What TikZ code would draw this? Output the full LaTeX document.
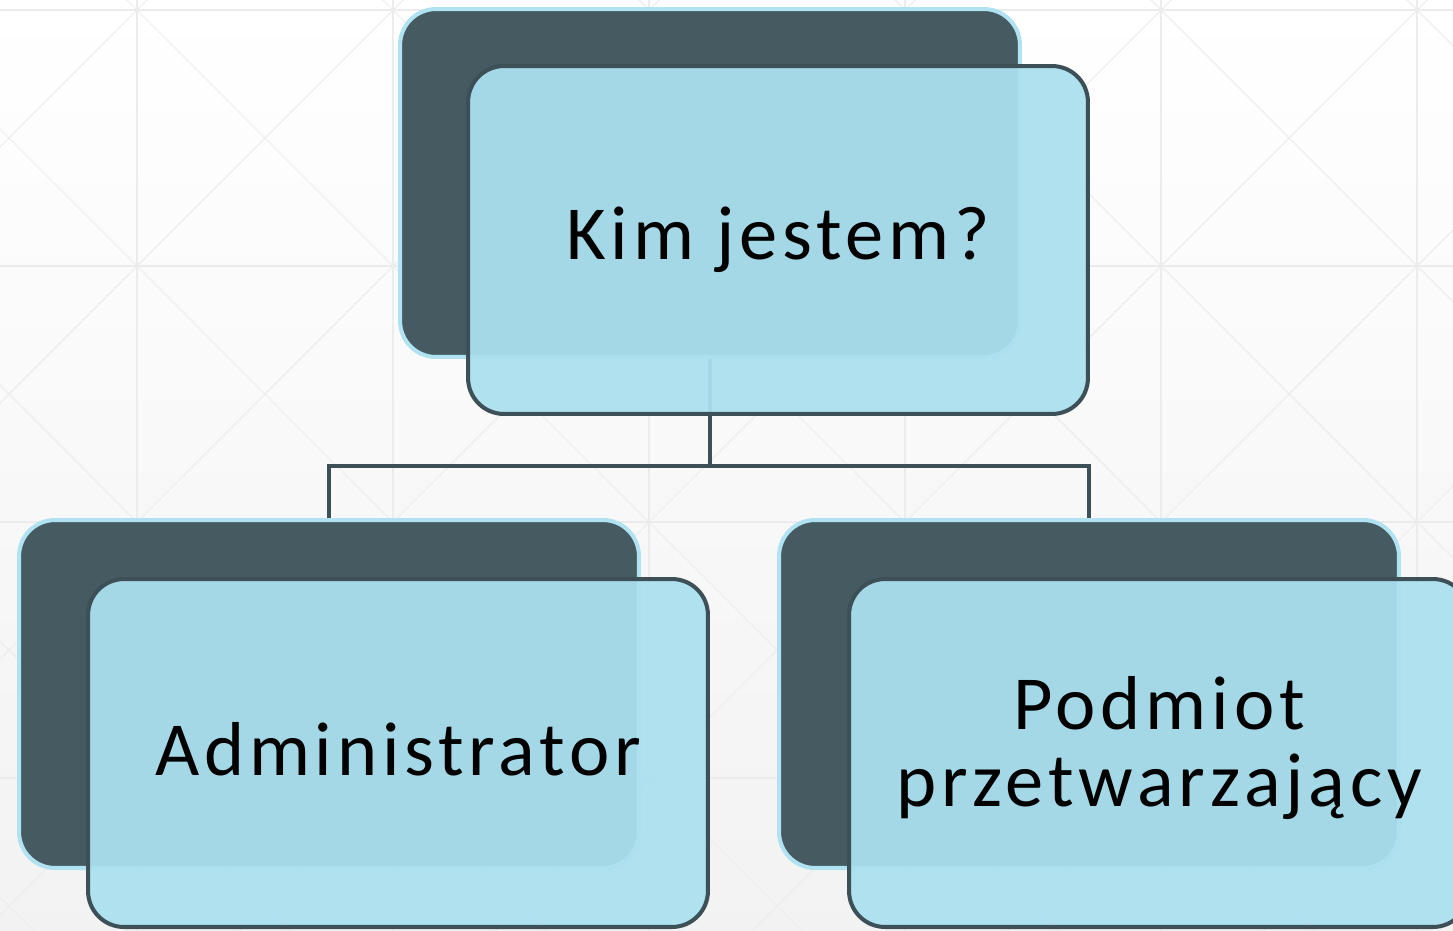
\documentclass[tikz,border=0pt]{standalone}
\usepackage{fontspec}
\setmainfont[LetterSpace=6.3]{Carlito}
\usetikzlibrary{positioning}
\definecolor{slate}{RGB}{69,90,97}
\definecolor{edge}{RGB}{62,80,87}
\definecolor{paleblue}{RGB}{172,224,239}
\definecolor{rimblue}{RGB}{176,226,242}
\definecolor{gridgray}{RGB}{236,236,236}

\begin{document}
\begin{tikzpicture}[x=0.02cm, y=-0.02cm,
        back/.style={draw=rimblue, line width=2.3pt, fill=slate, rounded corners=0.72cm,
            minimum width=12.4cm, minimum height=6.96cm},
        front/.style={draw=edge, line width=2.3pt, fill=paleblue, fill opacity=0.94, text opacity=1,
            rounded corners=0.72cm, minimum width=12.4cm, minimum height=6.96cm,
            align=center, font=\fontsize{43.5}{44}\selectfont},
        link/.style={draw=edge, line width=2.3pt}]
        \useasboundingbox (0,0) rectangle (1453,930);
        \shade[top color=white, bottom color=black!5] (0,0) rectangle (1453,930);
        \begin{scope}[gridgray, line width=0.6pt]
            \clip (0,0) rectangle (1453,930);
            \foreach \i in {-1,...,5} \foreach \j in {-1,...,3} {
                \draw (137+256*\i,10+256*\j) rectangle ++(256,256);
                \draw (137+256*\i,10+256*\j) -- ++(256,256) (393+256*\i,10+256*\j) -- ++(-256,256);
            }
        \end{scope}

        \node[back] (kimB) at (710,183) {};
        \node[back] (admB) at (329,694) {};
        \node[back] (podB) at (1089,694) {};

        \coordinate (split) at (710,466);
        \draw[link] (kimB.south) -- (split);
        \draw[link] (admB.north) |- (split) -| (podB.north);

        \node[front] (kim) at (778,240) {Kim jestem?};
        \node[front, text depth=0.16cm] (adm) at (398,753) {Administrator};
        \node[front, text depth=0.45cm] (pod) at (1159,753) {Podmiot\\przetwarzający};
    \end{tikzpicture}
\end{document}
